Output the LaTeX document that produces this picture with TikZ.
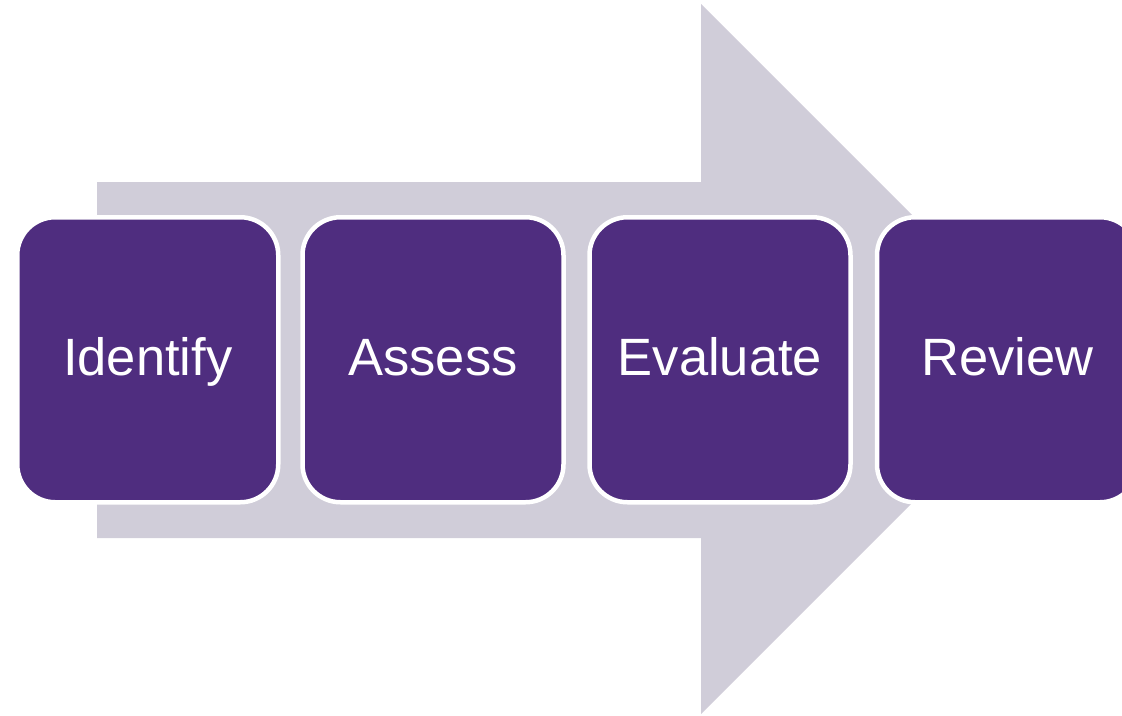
\documentclass[tikz,border=0pt]{standalone}
\usepackage{fontspec}
\setmainfont{Liberation Sans}
\definecolor{boxpurple}{HTML}{4F2D7F}
\definecolor{arrowgrey}{HTML}{D0CDD9}
\begin{document}
\begin{tikzpicture}[x=1pt,y=-1pt,
  stepbox/.style={draw=white, line width=4.5pt, fill=boxpurple, rounded corners=38pt,
    minimum width=261pt, minimum height=285pt, inner sep=0pt, text=white,
    text height=37.5pt, text depth=7pt,
    font=\fontsize{52.5}{62}\selectfont}]
\useasboundingbox (0,0) rectangle (1122,715);
\clip (0,0) rectangle (1122,715);
\fill[arrowgrey] (97,182) -- (701,182) -- (701,4) -- (1056,359) -- (701,714) -- (701,538) -- (97,538) -- cycle;
\node[stepbox] (identify) at (147.75,359.75) {Identify};
\node[stepbox] (assess) at (433,359.75) {Assess};
\node[stepbox] (evaluate) at (720,359.75) {Evaluate};
\node[stepbox] (review) at (1007.5,359.75) {Review};
\end{tikzpicture}
\end{document}
